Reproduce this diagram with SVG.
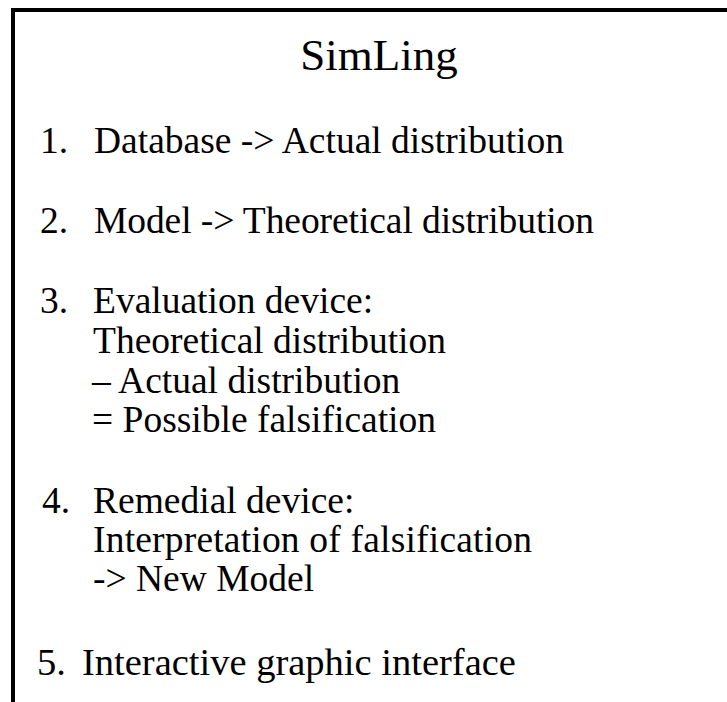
<svg xmlns="http://www.w3.org/2000/svg" width="727" height="702" viewBox="0 0 727 702">
<style>
  .t { font-family: "Liberation Serif", "Times New Roman", serif; font-size: 37.5px; fill: #000; }
  .big { font-size: 38.5px; }
  .title { font-family: "Liberation Serif", "Times New Roman", serif; font-size: 45px; fill: #000; }
  .frame { stroke: #000; stroke-width: 4; fill: none; }
</style>
<rect width="727" height="702" fill="#fff"/>
<g id="frame">
  <path class="frame" d="M13 702 L13 10 L727 10"/>
</g>
<g id="title">
  <text class="title" x="379" y="70" text-anchor="middle">SimLing</text>
</g>
<g id="item1">
  <text class="t" x="40" y="153">1.</text>
  <text class="t" x="94" y="153">Database -&gt; Actual distribution</text>
</g>
<g id="item2">
  <text class="t" x="40" y="233">2.</text>
  <text class="t" x="94" y="233" textLength="500" lengthAdjust="spacing">Model -&gt; Theoretical distribution</text>
</g>
<g id="item3">
  <text class="t" x="40" y="313">3.</text>
  <text class="t" x="93" y="313">Evaluation device:</text>
  <text class="t" x="93" y="353">Theoretical distribution</text>
  <text class="t" x="92" y="393">– Actual distribution</text>
  <text class="t" x="92" y="432">= Possible falsification</text>
</g>
<g id="item4">
  <text class="t" x="42" y="513">4.</text>
  <text class="t" x="93" y="513">Remedial device:</text>
  <text class="t" x="93" y="552" textLength="439" lengthAdjust="spacing">Interpretation of falsification</text>
  <text class="t" x="93" y="591">-&gt; New Model</text>
</g>
<g id="item5">
  <text class="t big" x="37" y="675">5.</text>
  <text class="t big" x="82" y="675">Interactive graphic interface</text>
</g>
</svg>
